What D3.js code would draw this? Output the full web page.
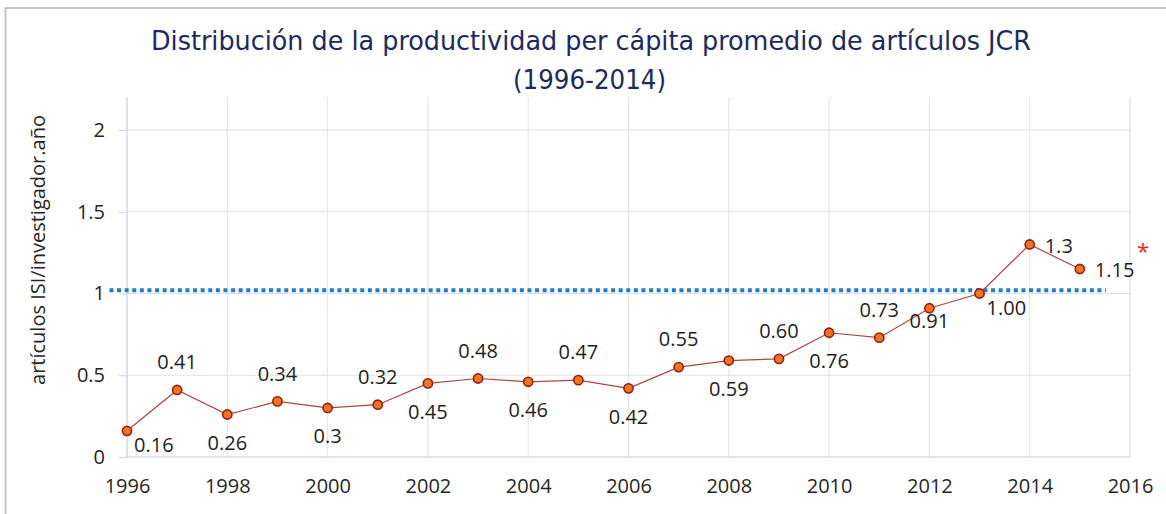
<!DOCTYPE html>
<html><head><meta charset="utf-8">
<script src="https://cdn.jsdelivr.net/npm/d3@7"></script>
<style>body{margin:0;background:#fff;}svg{display:block;}</style>
</head><body>
<svg id="chart" width="1166" height="514"></svg>
<script>
// ---- data ----
const years = [1996,1997,1998,1999,2000,2001,2002,2003,2004,2005,2006,2007,2008,2009,2010,2011,2012,2013,2014,2015];
const values = [0.16,0.41,0.26,0.34,0.30,0.32,0.45,0.48,0.46,0.47,0.42,0.55,0.59,0.60,0.76,0.73,0.91,1.00,1.30,1.15];
const valueLabels = ["0.16","0.41","0.26","0.34","0.3","0.32","0.45","0.48","0.46","0.47","0.42","0.55","0.59","0.60","0.76","0.73","0.91","1.00","1.3","1.15"];
const labelPlacement = ["belowRight","above","below","above","below","above","below","above","below","above","below","above","below","above","below","above","under","belowRight","right","right"];
const xTicks = [1996,1998,2000,2002,2004,2006,2008,2010,2012,2014,2016];
const yTicks = [0,0.5,1,1.5,2];
const yTickLabels = ["0","0.5","1","1.5","2"];
const refLineValue = 1.02;
const refLineYears = [1995.65, 2015.52];
const titleLines = ["Distribución de la productividad per cápita promedio de artículos JCR","(1996-2014)"];
const yAxisTitle = "artículos ISI/investigador.año";
const noteMark = "*";

// ---- layout ----
(function(){
const svg = d3.select("#chart");
const mLeft = 127, mRight = 1130, mBottom = 457, mTop = 97.3;
const x = d3.scaleLinear().domain([1996, 2016]).range([mLeft, mRight]);
const y = d3.scaleLinear().domain([0, 2.2]).range([mBottom, mTop]);

// outer border
svg.append("rect").attr("x", 5.5).attr("y", 8).attr("width", 1300).attr("height", 700)
  .attr("fill", "none").attr("stroke", "#c4c4c4").attr("stroke-width", 2);

// title
svg.append("text").attr("x", 591).attr("y", 50)
  .attr("text-anchor", "middle").attr("font-family", "DejaVu Sans Condensed")
  .attr("font-size", 27).attr("fill", "#1c2a62")
  .attr("textLength", 880).attr("lengthAdjust", "spacingAndGlyphs")
  .text(titleLines[0]);
svg.append("text").attr("x", 589.5).attr("y", 89)
  .attr("text-anchor", "middle").attr("font-family", "DejaVu Sans Condensed")
  .attr("font-size", 27).attr("fill", "#1c2a62")
  .attr("textLength", 153).attr("lengthAdjust", "spacingAndGlyphs")
  .text(titleLines[1]);

// gridlines
svg.append("g").selectAll("line").data(xTicks.filter(d => d !== 1996)).join("line")
  .attr("x1", d => x(d)).attr("x2", d => x(d)).attr("y1", y(2.2)).attr("y2", y(0))
  .attr("stroke", d => d === 2016 ? "#d3d7e3" : "#e2e2e2").attr("stroke-width", 1);
svg.append("g").selectAll("line").data(yTicks.filter(d => d !== 0)).join("line")
  .attr("x1", x(1996)).attr("x2", x(2016)).attr("y1", d => y(d)).attr("y2", d => y(d))
  .attr("stroke", "#e2e2e2").attr("stroke-width", 1);

// y axis
const yAxis = d3.axisLeft(y).tickValues(yTicks).tickSize(8).tickPadding(14)
  .tickFormat((d, i) => yTickLabels[i]);
const gy = svg.append("g").attr("transform", `translate(${mLeft},0)`).call(yAxis);
gy.select(".domain").attr("d", `M0,${y(2.2)}V${y(0)}`).attr("stroke", "#b7c3dc");
gy.selectAll(".tick line").attr("stroke", "#c9d1e3");
gy.selectAll(".tick text").attr("font-family", "Open Sans").attr("font-size", 20).attr("fill", "#262626");

// x axis
const xAxis = d3.axisBottom(x).tickValues(xTicks).tickSize(0).tickPadding(22).tickFormat(d3.format("d"));
const gx = svg.append("g").attr("transform", `translate(0,${mBottom})`).call(xAxis);
gx.select(".domain").attr("d", `M${mLeft},0H${mRight}`).attr("stroke", "#c5cbdd");
gx.selectAll(".tick text").attr("font-family", "Open Sans").attr("font-size", 20).attr("fill", "#262626");

// y axis title
svg.append("text").attr("transform", `translate(45,250) rotate(-90)`)
  .attr("text-anchor", "middle").attr("font-family", "Open Sans").attr("font-size", 20)
  .attr("fill", "#262626").text(yAxisTitle);

// reference dotted line
svg.append("line").attr("x1", x(refLineYears[0])).attr("x2", x(refLineYears[1]))
  .attr("y1", y(refLineValue)).attr("y2", y(refLineValue))
  .attr("stroke", "#1a7fd4").attr("stroke-width", 4).attr("stroke-dasharray", "4,3.6");

// series line
const pts = years.map((yr, i) => ({yr, v: values[i], lab: valueLabels[i], pos: labelPlacement[i]}));
svg.append("path").datum(pts)
  .attr("d", d3.line().x(d => x(d.yr)).y(d => y(d.v)))
  .attr("fill", "none").attr("stroke", "#ae4444").attr("stroke-width", 1.2);

svg.append("g").selectAll("circle").data(pts).join("circle")
  .attr("cx", d => x(d.yr)).attr("cy", d => y(d.v)).attr("r", 4.6)
  .attr("fill", "#f4731f").attr("stroke", "#9a1d10").attr("stroke-width", 1.6);

// labels
const place = {
  above:      {dx: 0,  dy: -28, anchor: "middle"},
  below:      {dx: 0,  dy: 28,  anchor: "middle"},
  under:      {dx: 0,  dy: 13,  anchor: "middle"},
  belowRight: {dx: 7,  dy: 14,  anchor: "start"},
  right:      {dx: 15, dy: 1,   anchor: "start"}
};
svg.append("g").selectAll("text").data(pts).join("text")
  .attr("x", d => x(d.yr) + place[d.pos].dx)
  .attr("y", d => y(d.v) + place[d.pos].dy)
  .attr("dy", "0.36em")
  .attr("text-anchor", d => place[d.pos].anchor)
  .attr("font-family", "Open Sans").attr("font-size", 20).attr("fill", "#1e1e1e")
  .text(d => d.lab);

// note asterisk
svg.append("text").attr("x", x(2016) + 7).attr("y", y(values[values.length - 1]) - 10)
  .attr("text-anchor", "start").attr("font-family", "Open Sans").attr("font-size", 22)
  .attr("fill", "#ff1a1a").text(noteMark);
})();
</script>
</body></html>
